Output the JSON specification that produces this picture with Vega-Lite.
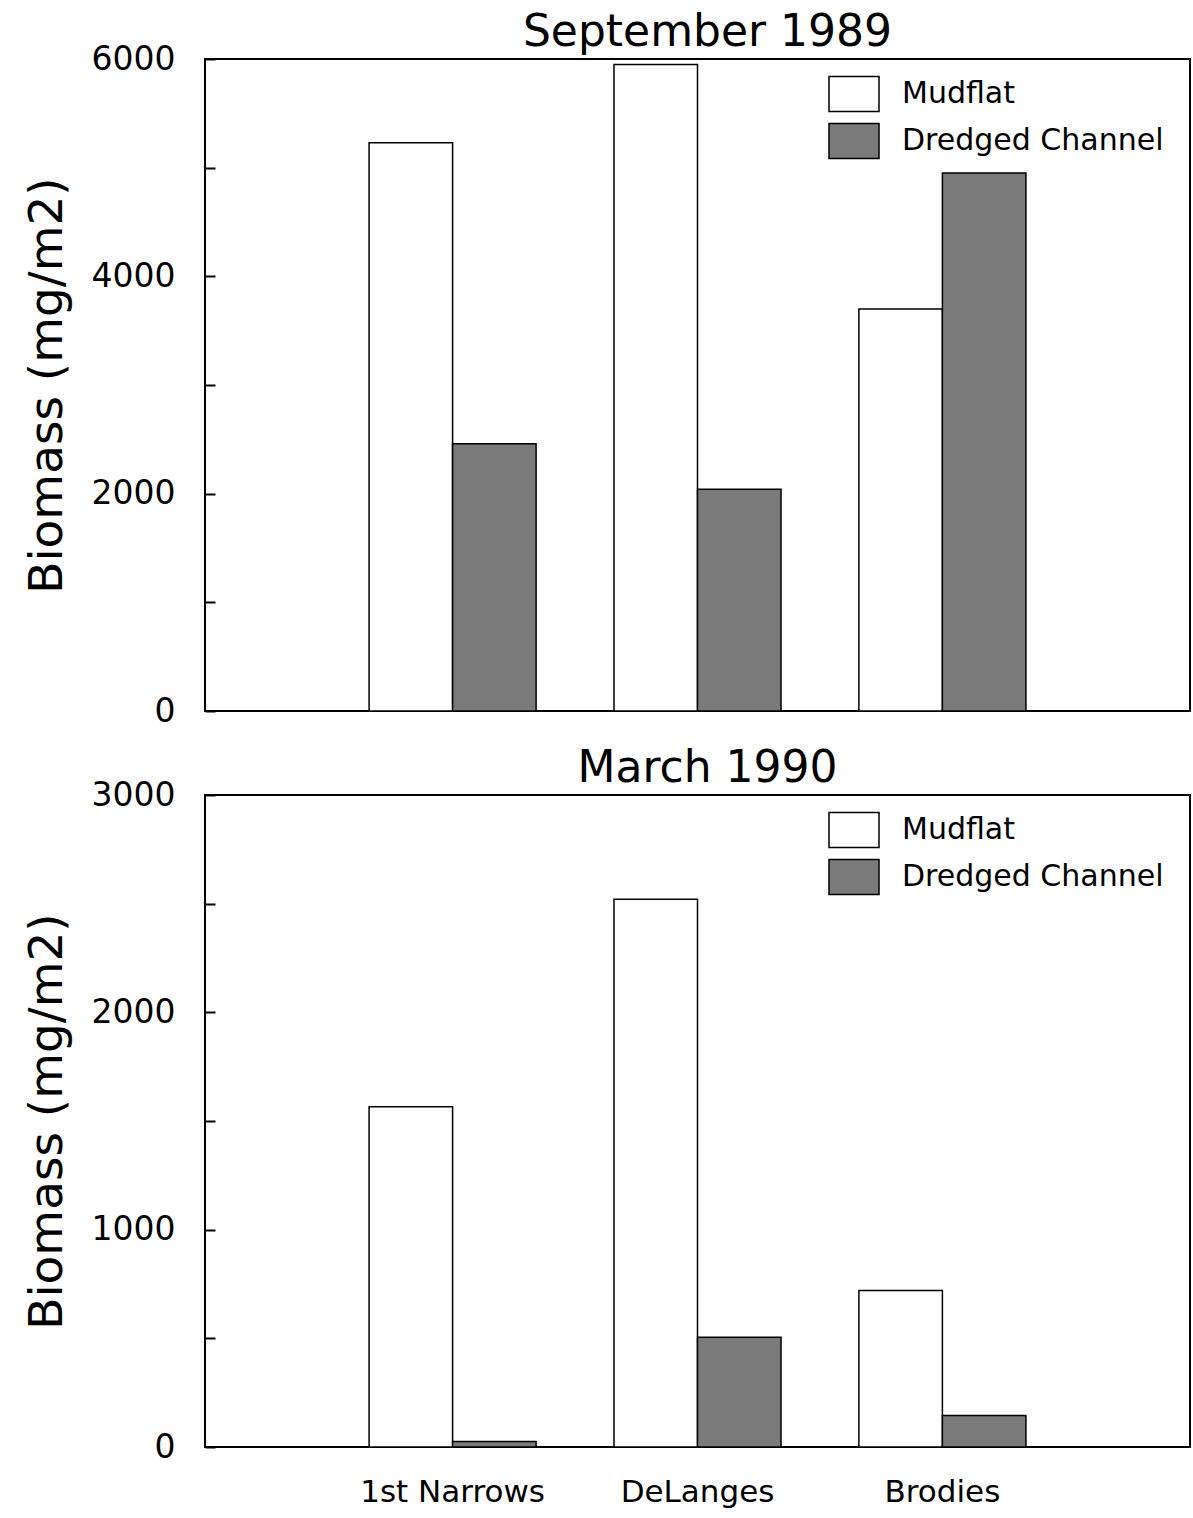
{
  "$schema": "https://vega.github.io/schema/vega-lite/v6.json",
  "padding": {"left": 22, "top": 10, "right": 0, "bottom": 0},
  "background": "white",
  "config": {
    "view": {"stroke": "black", "strokeWidth": 2},
    "font": "DejaVu Sans",
    "title": {"fontSize": 44, "fontWeight": "normal", "font": "DejaVu Sans", "color": "black", "offset": -12, "dx": 10},
    "axis": {"labelFont": "DejaVu Sans", "titleFont": "DejaVu Sans", "labelColor": "black", "titleColor": "black", "titleFontWeight": "normal", "tickColor": "black", "grid": false, "domain": false},
    "concat": {"spacing": 17}
  },
  "data": {"values": [
    {"period": "Sep", "site": "1st Narrows", "habitat": "Mudflat", "biomass": 5230},
    {"period": "Sep", "site": "1st Narrows", "habitat": "Dredged Channel", "biomass": 2460},
    {"period": "Sep", "site": "DeLanges", "habitat": "Mudflat", "biomass": 5950},
    {"period": "Sep", "site": "DeLanges", "habitat": "Dredged Channel", "biomass": 2040},
    {"period": "Sep", "site": "Brodies", "habitat": "Mudflat", "biomass": 3700},
    {"period": "Sep", "site": "Brodies", "habitat": "Dredged Channel", "biomass": 4950},
    {"period": "Mar", "site": "1st Narrows", "habitat": "Mudflat", "biomass": 1565},
    {"period": "Mar", "site": "1st Narrows", "habitat": "Dredged Channel", "biomass": 25},
    {"period": "Mar", "site": "DeLanges", "habitat": "Mudflat", "biomass": 2520},
    {"period": "Mar", "site": "DeLanges", "habitat": "Dredged Channel", "biomass": 505},
    {"period": "Mar", "site": "Brodies", "habitat": "Mudflat", "biomass": 720},
    {"period": "Mar", "site": "Brodies", "habitat": "Dredged Channel", "biomass": 145}
  ]},
  "vconcat": [
    {
      "title": "September 1989",
      "width": 985,
      "height": 652,
      "transform": [{"filter": "datum.period === 'Sep'"}],
      "mark": {"type": "bar", "stroke": "black", "strokeWidth": 1.5},
      "encoding": {
        "x": {"field": "site", "type": "nominal", "sort": ["1st Narrows", "DeLanges", "Brodies"],
              "scale": {"paddingInner": 0.318, "paddingOuter": 0.67},
              "axis": {"labels": false, "ticks": false, "title": null}},
        "xOffset": {"field": "habitat", "sort": ["Mudflat", "Dredged Channel"]},
        "y": {"field": "biomass", "type": "quantitative",
              "scale": {"domain": [0, 6000], "nice": false},
              "axis": {"values": [0, 1000, 2000, 3000, 4000, 5000, 6000],
                       "labelExpr": "datum.value % 2000 === 0 ? datum.label : ''",
                       "format": "d",
                       "labelFontSize": 33, "tickSize": -10, "tickWidth": 2, "labelPadding": 40,
                       "title": "Biomass (mg/m2)", "titleFontSize": 47, "titlePadding": 20}},
        "color": {"field": "habitat", "type": "nominal",
                  "scale": {"domain": ["Mudflat", "Dredged Channel"], "range": ["white", "#7a7a7a"]},
                  "legend": {"orient": "none", "legendX": 623, "legendY": 9, "title": null, "padding": 0,
                             "symbolType": "M-1,-0.7H1V0.7H-1Z", "symbolSize": 2500,
                             "symbolStrokeColor": "black", "symbolStrokeWidth": 1.5,
                             "labelFontSize": 30, "labelFont": "DejaVu Sans", "labelColor": "black",
                             "labelOffset": 22, "rowPadding": 0, "labelLimit": 0}}
      }
    },
    {
      "title": "March 1990",
      "width": 985,
      "height": 652,
      "transform": [{"filter": "datum.period === 'Mar'"}],
      "mark": {"type": "bar", "stroke": "black", "strokeWidth": 1.5},
      "encoding": {
        "x": {"field": "site", "type": "nominal", "sort": ["1st Narrows", "DeLanges", "Brodies"],
              "scale": {"paddingInner": 0.318, "paddingOuter": 0.67},
              "axis": {"labelAngle": 0, "ticks": false, "title": null, "labelFontSize": 31, "labelPadding": 30, "labelLimit": 0}},
        "xOffset": {"field": "habitat", "sort": ["Mudflat", "Dredged Channel"]},
        "y": {"field": "biomass", "type": "quantitative",
              "scale": {"domain": [0, 3000], "nice": false},
              "axis": {"values": [0, 500, 1000, 1500, 2000, 2500, 3000],
                       "labelExpr": "datum.value % 1000 === 0 ? datum.label : ''",
                       "format": "d",
                       "labelFontSize": 33, "tickSize": -10, "tickWidth": 2, "labelPadding": 40,
                       "title": "Biomass (mg/m2)", "titleFontSize": 47, "titlePadding": 20}},
        "color": {"field": "habitat", "type": "nominal",
                  "scale": {"domain": ["Mudflat", "Dredged Channel"], "range": ["white", "#7a7a7a"]},
                  "legend": {"orient": "none", "legendX": 623, "legendY": 9, "title": null, "padding": 0,
                             "symbolType": "M-1,-0.7H1V0.7H-1Z", "symbolSize": 2500,
                             "symbolStrokeColor": "black", "symbolStrokeWidth": 1.5,
                             "labelFontSize": 30, "labelFont": "DejaVu Sans", "labelColor": "black",
                             "labelOffset": 22, "rowPadding": 0, "labelLimit": 0}}
      }
    }
  ],
  "resolve": {"scale": {"color": "independent"}, "legend": {"color": "independent"}}
}
